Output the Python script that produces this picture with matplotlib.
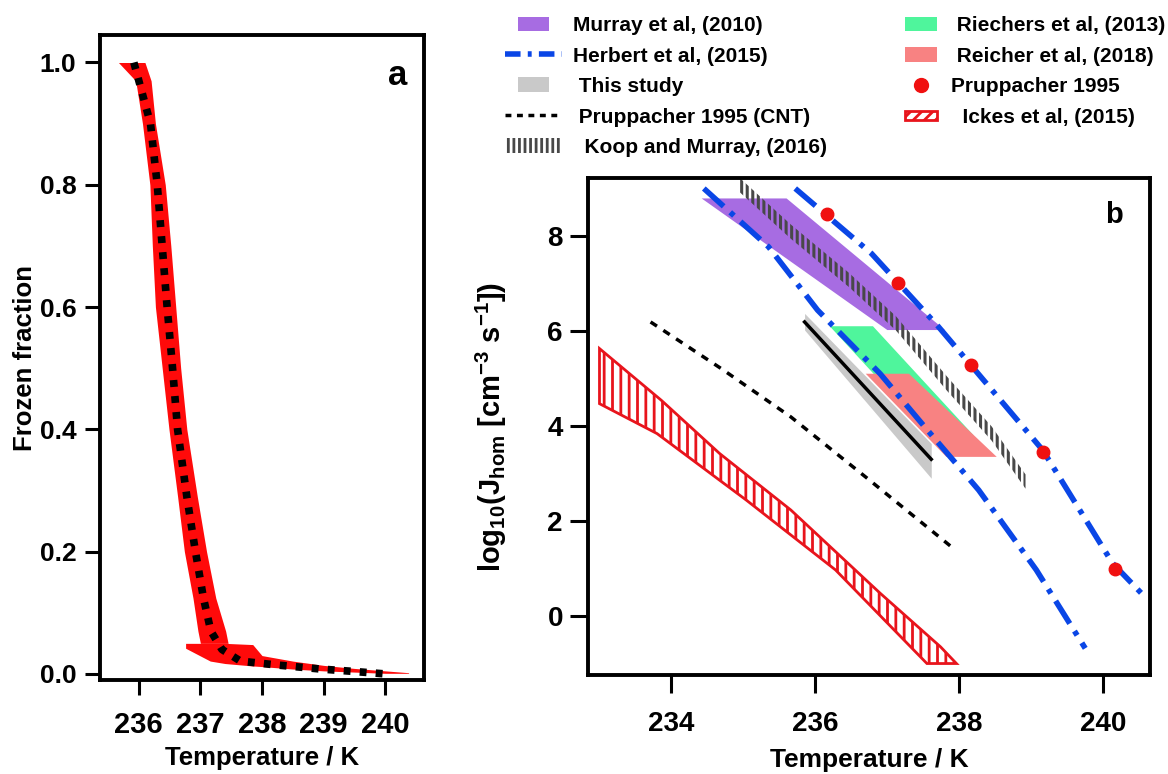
import matplotlib
matplotlib.use('Agg')
import numpy as np
import matplotlib.pyplot as plt
from matplotlib.patches import Patch, Rectangle
from matplotlib.lines import Line2D
from matplotlib.legend_handler import HandlerPatch

plt.rcParams['font.family'] = ['Liberation Sans', 'DejaVu Sans']
plt.rcParams['font.weight'] = 'bold'
plt.rcParams['axes.labelweight'] = 'bold'
plt.rcParams['hatch.linewidth'] = 2.0
plt.rcParams['mathtext.fontset'] = 'custom'
plt.rcParams['mathtext.rm'] = 'Liberation Sans:bold'
plt.rcParams['mathtext.it'] = 'Liberation Sans:bold'
plt.rcParams['mathtext.bf'] = 'Liberation Sans:bold'
plt.rcParams['mathtext.default'] = 'rm'

# ---- panel a: frozen fraction ----
ff_T = [235.92, 236.19, 236.3, 236.38, 236.46, 236.54, 236.63, 236.78, 236.92,
        237.05, 237.17, 237.35, 237.65, 238.2, 238.95, 239.5, 240.0]
ff = [1.0, 0.9, 0.8, 0.7, 0.6, 0.51, 0.4, 0.29, 0.2,
      0.124, 0.07, 0.04, 0.021, 0.015, 0.008, 0.004, 0.0]

band_ff = [1.0, 0.97, 0.9, 0.8, 0.7, 0.6, 0.5, 0.4, 0.29, 0.2, 0.124, 0.07, 0.05]
band_lo = [235.67, 235.95, 236.06, 236.18, 236.22, 236.27, 236.38, 236.49, 236.63, 236.74, 236.88, 236.96, 237.0]
band_hi = [236.1, 236.2, 236.27, 236.43, 236.52, 236.6, 236.68, 236.78, 236.95, 237.1, 237.25, 237.41, 237.45]

tail_T = [236.76, 237.16, 237.4, 237.85, 238.0, 238.5, 239.0, 239.5, 240.0, 240.38]
tail_hi = [0.05, 0.05, 0.05, 0.048, 0.03, 0.021, 0.014, 0.009, 0.005, 0.002]
tail_lo = [0.042, 0.021, 0.017, 0.013, 0.012, 0.008, 0.005, 0.003, 0.001, 0.001]

# ---- panel b: nucleation rates ----
ickes_top_T = [233.0, 233.86, 234.67, 235.66, 236.9, 237.74, 237.96]
ickes_top_J = [5.63, 4.54, 3.42, 2.23, 0.48, -0.65, -1.0]
ickes_bot_T = [233.0, 233.8, 235.04, 236.28, 237.55]
ickes_bot_J = [4.47, 3.84, 2.44, 0.97, -1.0]

cnt_T = [233.71, 234.7, 235.66, 236.72, 237.92]
cnt_J = [6.19, 5.2, 4.19, 2.9, 1.42]

herb1_T = [234.45, 235.35, 236.03, 236.9, 237.52, 238.27, 239.07, 239.75]
herb1_J = [9.0, 7.77, 6.44, 5.1, 3.98, 2.65, 0.97, -0.68]
herb2_T = [235.72, 236.78, 237.71, 238.14, 239.16, 240.13, 240.53]
herb2_J = [9.0, 7.63, 6.09, 5.32, 3.49, 1.11, 0.48]

prupp_T = [236.16, 237.15, 238.16, 239.16, 240.16]
prupp_J = [8.47, 7.0, 5.28, 3.46, 0.99]

murray_T = [234.42, 235.6, 237.8, 237.0]
murray_J = [8.79, 8.79, 6.02, 6.02]

riechers_T = [236.2, 236.8, 238.2, 237.6]
riechers_J = [6.1, 6.1, 3.8, 3.8]

reicher_T = [236.7, 237.3, 238.52, 237.82]
reicher_J = [5.1, 5.1, 3.35, 3.35]

study_T = [235.85, 237.61]
study_lo = [6.02, 2.9]
study_hi = [6.37, 3.63]
study_line = [6.19, 3.3]

koop_T = [234.95, 235.66, 236.47, 237.12, 237.83, 238.45, 238.92]
koop_J = [9.07, 8.09, 7.07, 6.16, 4.89, 3.84, 2.83]
koop_half = 0.15

c_purple = '#A76CE2'
c_green = '#4FF59C'
c_pink = '#F88282'
c_gray = '#C9C9C9'
c_blue = '#0A46E6'
c_red = '#F01010'
c_ickes = '#E8141C'
c_koop = '#484848'


def thick_hatch(artist, w):
    # per-artist hatch width where matplotlib supports it
    if hasattr(artist, 'set_hatch_linewidth'):
        artist.set_hatch_linewidth(w)
    return artist


fig = plt.figure(figsize=(11.68, 7.74), dpi=100)

# panel a
axa = fig.add_axes([0.0856, 0.1214, 0.2774, 0.8334])
axa.fill_betweenx(band_ff, band_lo, band_hi, color='#FF0A0A', lw=0)
axa.fill_between(tail_T, tail_lo, tail_hi, color='#FF0A0A', lw=0)
axa.plot(ff_T, ff, color='black', lw=5.5, dashes=(0.9, 1.2))
axa.set_xlim(235.37, 240.63)
axa.set_ylim(-0.01, 1.045)
axa.set_xticks([236, 237, 238, 239, 240])
axa.set_yticks([0.0, 0.2, 0.4, 0.6, 0.8, 1.0])
axa.set_yticklabels(['0.0', '0.2', '0.4', '0.6', '0.8', '1.0'])
axa.tick_params(axis='x', labelsize=21, width=2.2, length=11, pad=11)
axa.tick_params(axis='y', labelsize=19, width=2.2, length=11, pad=6)
for s in axa.spines.values():
    s.set_linewidth(2.8)
axa.set_xlabel('Temperature / K', fontsize=18.5, labelpad=5)
axa.set_ylabel('Frozen fraction', fontsize=18.5, labelpad=2)
axa.text(0.947, 0.922, 'a', transform=axa.transAxes, fontsize=25,
         fontweight='bold', ha='right', va='baseline')

# panel b
axb = fig.add_axes([0.5034, 0.128, 0.4812, 0.642])
axb.fill(murray_T, murray_J, color=c_purple, lw=0)
axb.fill(riechers_T, riechers_J, color=c_green, lw=0)
axb.fill(reicher_T, reicher_J, color=c_pink, lw=0)
axb.fill_between(study_T, study_lo, study_hi, color=c_gray, lw=0)
axb.plot(study_T, study_line, color='black', lw=2.5)
koop = axb.fill_between(koop_T, np.array(koop_J) - koop_half, np.array(koop_J) + koop_half,
                        facecolor='none', edgecolor=c_koop, hatch='|||', lw=0)
thick_hatch(koop, 2.2)
axb.fill(ickes_top_T + ickes_bot_T[::-1], ickes_top_J + ickes_bot_J[::-1],
         facecolor='none', edgecolor=c_ickes, hatch='||', lw=2)
axb.plot(cnt_T, cnt_J, color='black', lw=2.5, dashes=(2.2, 2.2))
axb.plot(herb1_T, herb1_J, color=c_blue, lw=4, dashes=(4.8, 1.6, 0.9, 1.6))
axb.plot(herb2_T, herb2_J, color=c_blue, lw=4, dashes=(4.8, 1.6, 0.9, 1.6))
axb.plot(prupp_T, prupp_J, ls='none', marker='o', ms=9, color=c_red)
axb.set_xlim(232.84, 240.65)
axb.set_ylim(-1.24, 9.22)
axb.set_xticks([234, 236, 238, 240])
axb.set_yticks([0, 2, 4, 6, 8])
axb.tick_params(axis='x', labelsize=20, width=2.2, length=13, pad=13)
axb.tick_params(axis='y', labelsize=20, width=2.2, length=13, pad=5)
for s in axb.spines.values():
    s.set_linewidth(2.8)
axb.set_xlabel('Temperature / K', fontsize=19, labelpad=8)
axb.set_ylabel('log$_{10}$(J$_{hom}$ [cm$^{-3}$ s$^{-1}$])', fontsize=21,
               labelpad=28)
axb.text(0.952, 0.909, 'b', transform=axb.transAxes, fontsize=21,
         fontweight='bold', ha='right', va='baseline')


# legend above panel b
def small_rect(legend, orig_handle, xdescent, ydescent, width, height, fontsize):
    w = min(width, 1.5 * fontsize)
    return Rectangle((-xdescent + (width - w) / 2, -ydescent), w, height)


def flat_rect(legend, orig_handle, xdescent, ydescent, width, height, fontsize):
    h = height * 0.6
    return Rectangle((-xdescent, -ydescent + (height - h) / 2), width, h)


murray_h = Patch(facecolor=c_purple, edgecolor='none')
study_h = Patch(facecolor=c_gray, edgecolor='none')
koop_h = thick_hatch(Patch(facecolor='none', edgecolor=c_koop, hatch='|||', lw=0), 2.2)
h1 = [murray_h,
      Line2D([], [], color=c_blue, lw=4, dashes=(2.8, 1.3, 0.7, 1.3)),
      study_h,
      Line2D([], [], color='black', lw=2.5, dashes=(1.7, 1.6)),
      koop_h]
l1 = ['Murray et al, (2010)', 'Herbert et al, (2015)', ' This study',
      ' Pruppacher 1995 (CNT)', '  Koop and Murray, (2016)']
ickes_h = Patch(facecolor='none', edgecolor=c_ickes, hatch='///', lw=2)
h2 = [Patch(facecolor=c_green, edgecolor='none'),
      Patch(facecolor=c_pink, edgecolor='none'),
      Line2D([], [], ls='none', marker='o', ms=10, color=c_red),
      ickes_h]
l2 = [' Riechers et al, (2013)', ' Reicher et al, (2018)', 'Pruppacher 1995',
      '  Ickes et al, (2015)']
leg_font = {'weight': 'bold', 'size': 15}
fig.legend(h1, l1, loc='upper left', bbox_to_anchor=(0.4324, 0.979), frameon=False,
           prop=leg_font, handlelength=2.75, handleheight=0.72, handletextpad=0.5,
           labelspacing=0.55, borderpad=0, borderaxespad=0,
           handler_map={murray_h: HandlerPatch(patch_func=small_rect),
                        study_h: HandlerPatch(patch_func=small_rect)})
fig.legend(h2, l2, loc='upper left', bbox_to_anchor=(0.7748, 0.979), frameon=False,
           prop=leg_font, handlelength=1.55, handleheight=0.72, handletextpad=0.65,
           labelspacing=0.55, borderpad=0, borderaxespad=0,
           handler_map={ickes_h: HandlerPatch(patch_func=flat_rect)})

fig.savefig('out.png', dpi=100)
